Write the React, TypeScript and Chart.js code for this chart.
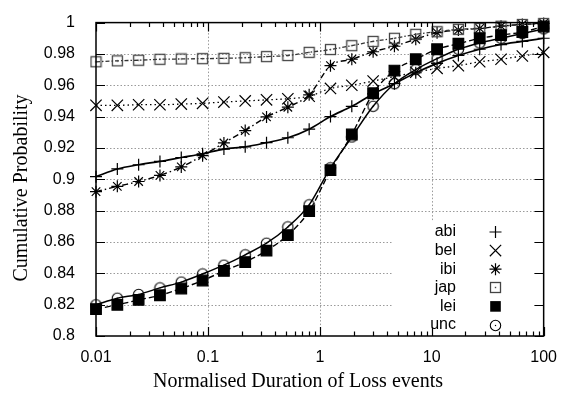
import React, { useEffect, useRef } from 'react';
import { Chart, registerables } from 'chart.js';

Chart.register(...registerables);

// ---- data ----
const durations = [0.01, 0.01551, 0.02404, 0.03728, 0.0578, 0.08963, 0.139, 0.2154, 0.334, 0.5179, 0.803, 1.245, 1.931, 2.994, 4.642, 7.197, 11.16, 17.3, 26.83, 41.6, 64.5, 100];
const abi = [0.9017, 0.9066, 0.9093, 0.9114, 0.9139, 0.9163, 0.9193, 0.9207, 0.9234, 0.9265, 0.932, 0.94, 0.9466, 0.9545, 0.961, 0.968, 0.974, 0.979, 0.983, 0.986, 0.988, 0.99];
const bel = [0.9472, 0.9472, 0.9476, 0.9476, 0.948, 0.9485, 0.9493, 0.95, 0.9507, 0.9514, 0.953, 0.958, 0.96, 0.9627, 0.9655, 0.9683, 0.9708, 0.9725, 0.975, 0.9766, 0.9787, 0.981];
const ibi = [0.8921, 0.8955, 0.8986, 0.9025, 0.9079, 0.9151, 0.9232, 0.9311, 0.9398, 0.946, 0.9539, 0.9725, 0.9766, 0.9814, 0.9849, 0.9894, 0.9936, 0.9952, 0.9963, 0.9977, 0.9988, 0.9995];
const jap = [0.975, 0.9756, 0.976, 0.9766, 0.9768, 0.977, 0.9772, 0.9776, 0.9783, 0.979, 0.981, 0.9828, 0.9853, 0.988, 0.99, 0.9925, 0.9942, 0.9957, 0.9963, 0.9977, 0.9988, 0.9994];
const lei = [0.8172, 0.8199, 0.823, 0.826, 0.8303, 0.8354, 0.8415, 0.8472, 0.8545, 0.8644, 0.8797, 0.9058, 0.9286, 0.9549, 0.9694, 0.9766, 0.983, 0.9865, 0.99, 0.992, 0.994, 0.9975];
const unc = [0.8199, 0.8241, 0.8265, 0.8307, 0.8344, 0.8396, 0.8452, 0.8518, 0.8592, 0.8696, 0.8837, 0.9073, 0.927, 0.9466, 0.961, 0.97, 0.977, 0.983, 0.987, 0.99, 0.993, 0.996];
const seriesNames = ['abi', 'bel', 'ibi', 'jap', 'lei', 'unc'];
const xTickValues = [0.01, 0.1, 1, 10, 100];
const yTickValues = [0.8, 0.82, 0.84, 0.86, 0.88, 0.9, 0.92, 0.94, 0.96, 0.98, 1];
const xTitle = 'Normalised Duration of Loss events';
const yTitle = 'Cumulative Probability';

const SANS = '"Liberation Sans", Arial, Helvetica, sans-serif';
const SERIF = '"Liberation Serif", "Times New Roman", serif';

function makeSquareMarker(): HTMLCanvasElement {
  const c = document.createElement('canvas');
  c.width = 13; c.height = 13;
  const g = c.getContext('2d')!;
  g.strokeStyle = '#444';
  g.lineWidth = 1.3;
  g.strokeRect(1.5, 1.5, 10, 10);
  g.fillStyle = '#444';
  g.fillRect(5.8, 5.8, 1.4, 1.4);
  return c;
}

function makeCircleMarker(): HTMLCanvasElement {
  const c = document.createElement('canvas');
  c.width = 13; c.height = 13;
  const g = c.getContext('2d')!;
  g.strokeStyle = '#000';
  g.lineWidth = 1.1;
  g.beginPath();
  g.arc(6.5, 6.5, 5.2, 0, Math.PI * 2);
  g.stroke();
  g.fillStyle = '#000';
  g.fillRect(5.9, 5.9, 1.2, 1.2);
  return c;
}

function drawMarker(ctx: CanvasRenderingContext2D, style: any, x: number, y: number) {
  ctx.save();
  ctx.setLineDash([]);
  ctx.strokeStyle = '#000';
  ctx.fillStyle = '#000';
  ctx.lineWidth = 1.2;
  const kind = style.kind;
  if (kind === 'plus') {
    const r = style.radius;
    ctx.beginPath();
    ctx.moveTo(x - r, y); ctx.lineTo(x + r, y);
    ctx.moveTo(x, y - r); ctx.lineTo(x, y + r);
    ctx.stroke();
  } else if (kind === 'x') {
    const r = style.radius * Math.SQRT1_2;
    ctx.beginPath();
    ctx.moveTo(x - r, y - r); ctx.lineTo(x + r, y + r);
    ctx.moveTo(x - r, y + r); ctx.lineTo(x + r, y - r);
    ctx.stroke();
  } else if (kind === 'star') {
    const r = style.radius;
    const d = r * Math.SQRT1_2;
    ctx.beginPath();
    ctx.moveTo(x - r, y); ctx.lineTo(x + r, y);
    ctx.moveTo(x, y - r); ctx.lineTo(x, y + r);
    ctx.moveTo(x - d, y - d); ctx.lineTo(x + d, y + d);
    ctx.moveTo(x - d, y + d); ctx.lineTo(x + d, y - d);
    ctx.stroke();
  } else if (kind === 'filledSquare') {
    const s = style.radius * Math.SQRT1_2;
    ctx.fillRect(x - s, y - s, 2 * s, 2 * s);
  } else if (kind === 'image') {
    const img = style.image as HTMLCanvasElement;
    ctx.drawImage(img, Math.round(x - img.width / 2), Math.round(y - img.height / 2));
  }
  ctx.restore();
}

export default function App() {
  const canvasRef = useRef<HTMLCanvasElement | null>(null);

  useEffect(() => {
    document.body.style.margin = '0';
    const canvas = canvasRef.current;
    if (!canvas) return;

    const squareImg = makeSquareMarker();
    const circleImg = makeCircleMarker();

    const styles: any[] = [
      { kind: 'plus', pointStyle: 'cross', radius: 6, color: '#000', width: 1.7, dash: [] },
      { kind: 'x', pointStyle: 'crossRot', radius: 8, color: '#000', width: 1.3, dash: [1.5, 3] },
      { kind: 'star', pointStyle: 'star', radius: 6, color: '#000', width: 1.4, dash: [6, 3, 1.5, 3] },
      { kind: 'image', pointStyle: squareImg, image: squareImg, radius: 6, color: '#333', width: 1.3, dash: [4, 2, 1.5, 2] },
      { kind: 'filledSquare', pointStyle: 'rect', radius: 7.5, color: '#000', width: 1.4, dash: [6, 3] },
      { kind: 'image', pointStyle: circleImg, image: circleImg, radius: 6, color: '#000', width: 1.5, dash: [] },
    ];

    const series = [abi, bel, ibi, jap, lei, unc];

    const legendBox = { left: 392, top: 222, right: 534, bottom: 334 };

    const decor = {
      id: 'decor',
      beforeDatasetsDraw(chart: any) {
        const { ctx, chartArea: a, scales } = chart;
        const xs = scales.x;
        const ys = scales.y;
        ctx.save();
        ctx.strokeStyle = '#9a9a9a';
        ctx.lineWidth = 1;
        ctx.setLineDash([1.5, 2]);
        for (const v of yTickValues) {
          const py = Math.round(ys.getPixelForValue(v)) + 0.5;
          if (py <= a.top + 1 || py >= a.bottom - 1) continue;
          ctx.beginPath(); ctx.moveTo(a.left, py); ctx.lineTo(a.right, py); ctx.stroke();
        }
        for (const v of xTickValues) {
          const px = Math.round(xs.getPixelForValue(v)) + 0.5;
          if (px <= a.left + 1 || px >= a.right - 1) continue;
          ctx.beginPath(); ctx.moveTo(px, a.top); ctx.lineTo(px, a.bottom); ctx.stroke();
        }
        ctx.setLineDash([]);
        ctx.fillStyle = '#fff';
        ctx.fillRect(legendBox.left, legendBox.top, legendBox.right - legendBox.left, legendBox.bottom - legendBox.top);
        ctx.restore();
      },
      afterDatasetsDraw(chart: any) {
        const { ctx, chartArea: a, scales } = chart;
        const xs = scales.x;
        const ys = scales.y;
        ctx.save();
        ctx.setLineDash([]);
        ctx.strokeStyle = '#000';
        ctx.lineWidth = 1.2;
        // ticks
        const major = 9, minor = 4.5;
        ctx.beginPath();
        for (const v of yTickValues) {
          const py = Math.round(ys.getPixelForValue(v)) + 0.5;
          ctx.moveTo(a.left, py); ctx.lineTo(a.left + major, py);
          ctx.moveTo(a.right, py); ctx.lineTo(a.right - major, py);
        }
        for (const v of xTickValues) {
          const px = Math.round(xs.getPixelForValue(v)) + 0.5;
          ctx.moveTo(px, a.bottom); ctx.lineTo(px, a.bottom - major);
          ctx.moveTo(px, a.top); ctx.lineTo(px, a.top + major);
        }
        for (let i = 0; i < xTickValues.length - 1; i++) {
          for (let m = 2; m <= 9; m++) {
            const px = Math.round(xs.getPixelForValue(xTickValues[i] * m)) + 0.5;
            ctx.moveTo(px, a.bottom); ctx.lineTo(px, a.bottom - minor);
            ctx.moveTo(px, a.top); ctx.lineTo(px, a.top + minor);
          }
        }
        ctx.stroke();
        // border
        ctx.lineWidth = 1.5;
        ctx.strokeRect(a.left, a.top, a.right - a.left, a.bottom - a.top);
        // legend
        ctx.fillStyle = '#000';
        ctx.font = '16px ' + SANS;
        ctx.textAlign = 'right';
        ctx.textBaseline = 'middle';
        seriesNames.forEach((name, i) => {
          const ly = 232 + i * 18.6;
          ctx.fillText(name, 456, ly);
          drawMarker(ctx, styles[i], 495.5, ly);
        });
        // axis titles
        ctx.font = '20px ' + SERIF;
        ctx.textAlign = 'center';
        ctx.textBaseline = 'middle';
        ctx.fillText(xTitle, 298, 382);
        ctx.translate(22, 188);
        ctx.rotate(-Math.PI / 2);
        ctx.fillText(yTitle, 0, 0);
        ctx.restore();
      },
    };

    const chart = new Chart(canvas, {
      type: 'line',
      data: {
        datasets: seriesNames.map((name, i) => ({
          label: name,
          data: durations.map((d, j) => ({ x: d, y: series[i][j] })),
          borderColor: styles[i].color,
          borderWidth: styles[i].width,
          borderDash: styles[i].dash,
          pointStyle: styles[i].pointStyle,
          pointRadius: styles[i].radius,
          pointHoverRadius: styles[i].radius,
          pointBorderColor: '#000',
          pointBackgroundColor: styles[i].kind === 'filledSquare' ? '#000' : 'rgba(0,0,0,0)',
          pointBorderWidth: 1.2,
          fill: false,
          cubicInterpolationMode: 'monotone',
          clip: false,
          order: 6 - i,
        })),
      },
      options: {
        responsive: false,
        animation: false,
        devicePixelRatio: 1,
        layout: { padding: { left: 0, right: 15, top: 14, bottom: 0 } },
        plugins: { legend: { display: false }, tooltip: { enabled: false } },
        scales: {
          x: {
            type: 'logarithmic',
            min: 0.01,
            max: 100,
            grid: { display: false },
            border: { display: false },
            afterBuildTicks: (s: any) => { s.ticks = xTickValues.map((v) => ({ value: v })); },
            afterFit: (s: any) => { s.height = 62; },
            ticks: {
              font: { family: SANS, size: 16 },
              color: '#000',
              padding: 4,
              maxRotation: 0,
              autoSkip: false,
              callback: (v: any) => String(v),
            },
          },
          y: {
            type: 'linear',
            min: 0.8,
            max: 1,
            grid: { display: false },
            border: { display: false },
            afterBuildTicks: (s: any) => { s.ticks = yTickValues.map((v) => ({ value: v })); },
            afterFit: (s: any) => { s.width = 96; },
            ticks: {
              font: { family: SANS, size: 16 },
              color: '#000',
              padding: 13,
              autoSkip: false,
              callback: (v: any) => String(parseFloat(Number(v).toFixed(2))),
            },
          },
        },
      } as any,
      plugins: [decor],
    });

    return () => chart.destroy();
  }, []);

  return (
    <div style={{ width: 561, height: 398 }}>
      <canvas ref={canvasRef} width={561} height={398} style={{ display: 'block' }} />
    </div>
  );
}
